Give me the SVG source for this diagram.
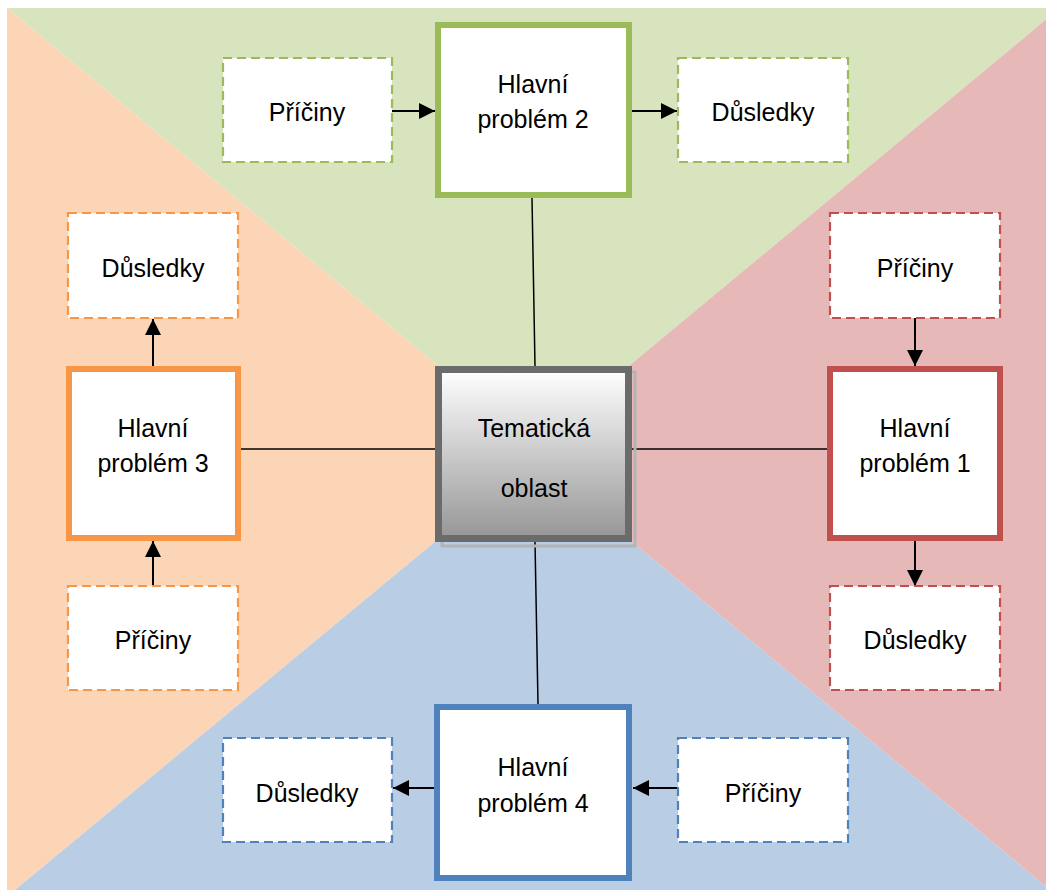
<svg xmlns="http://www.w3.org/2000/svg" width="1046" height="890" viewBox="0 0 1046 890">
<defs>
<linearGradient id="grad" x1="0" y1="0" x2="0" y2="1">
<stop offset="0" stop-color="#ffffff"/>
<stop offset="1" stop-color="#969696"/>
</linearGradient>
<marker id="ah" viewBox="0 0 10 10" refX="10" refY="5" markerWidth="8" markerHeight="8" markerUnits="strokeWidth" orient="auto">
<path d="M0,0 L10,5 L0,10 Z" fill="#000"/>
</marker>
</defs>
<style>
text{font-family:"Liberation Sans",Arial,sans-serif;font-size:25px;fill:#000;text-anchor:middle}
.main{fill:#fff;stroke-width:6}
.dash{fill:#fff;stroke-width:2.2;stroke-dasharray:9 5}
.arr{stroke:#000;stroke-width:2;fill:none;marker-end:url(#ah)}
.ln{stroke:#000;stroke-width:1.5;fill:none}
.g{stroke:#9BBB59}.r{stroke:#C0504D}.o{stroke:#F79646}.b{stroke:#4F81BD}
</style>
<rect width="1046" height="890" fill="#fff"/>
<g id="background">
<polygon points="7,8 1060,8 630,365 437,365" fill="#D7E4BD"/>
<polygon points="7,8 437,365 437,540 15,890 7,890" fill="#FBD5B5"/>
<polygon points="15,890 437,540 630,540 1050,890" fill="#B9CDE5"/>
<polygon points="1060,8 1060,890 1050,890 630,540 630,365" fill="#E6B9B8"/>
<rect x="437" y="365" width="193" height="175" fill="#D7E4BD"/>
</g>
<g id="connectors">
<line class="ln" x1="532" y1="198" x2="535" y2="366"/>
<line class="ln" x1="535" y1="542" x2="538" y2="704"/>
<line class="ln" x1="240" y1="449" x2="437" y2="449"/>
<line class="ln" x1="632" y1="449" x2="828" y2="449"/>
<line class="arr" x1="392" y1="111" x2="435" y2="111"/>
<line class="arr" x1="632" y1="111" x2="677" y2="111"/>
<line class="arr" x1="915" y1="318" x2="915" y2="366"/>
<line class="arr" x1="915" y1="541" x2="915" y2="586"/>
<line class="arr" x1="153" y1="366" x2="153" y2="319"/>
<line class="arr" x1="153" y1="586" x2="153" y2="541"/>
<line class="arr" x1="434" y1="788" x2="393" y2="788"/>
<line class="arr" x1="678" y1="788" x2="633" y2="788"/>
</g>
<g id="center">
<rect x="442" y="372" width="193" height="174" fill="none" stroke="#b4b4b4" stroke-width="3"/>
<rect x="438.5" y="369.5" width="190" height="169" fill="url(#grad)" stroke="#6b6b6b" stroke-width="7"/>
<text x="534" y="437">Tematická</text>
<text x="534" y="497">oblast</text>
</g>
<g id="problem2">
<rect class="main g" x="438" y="25" width="191" height="170"/>
<text x="533" y="93">Hlavní</text>
<text x="533" y="128">problém 2</text>
</g>
<g id="priciny2">
<rect class="dash g" x="223" y="58" width="169" height="104"/>
<text x="307" y="121">Příčiny</text>
</g>
<g id="dusledky2">
<rect class="dash g" x="678" y="58" width="170" height="104"/>
<text x="763" y="121">Důsledky</text>
</g>
<g id="problem1">
<rect class="main r" x="830" y="369" width="170" height="169"/>
<text x="915" y="437">Hlavní</text>
<text x="915" y="472">problém 1</text>
</g>
<g id="priciny1">
<rect class="dash r" x="830" y="213" width="170" height="105"/>
<text x="915" y="277">Příčiny</text>
</g>
<g id="dusledky1">
<rect class="dash r" x="830" y="586" width="170" height="104"/>
<text x="915" y="649">Důsledky</text>
</g>
<g id="problem3">
<rect class="main o" x="69" y="369" width="169" height="169"/>
<text x="153" y="437">Hlavní</text>
<text x="153" y="472">problém 3</text>
</g>
<g id="dusledky3">
<rect class="dash o" x="68" y="213" width="170" height="105"/>
<text x="153" y="277">Důsledky</text>
</g>
<g id="priciny3">
<rect class="dash o" x="68" y="586" width="170" height="104"/>
<text x="153" y="649">Příčiny</text>
</g>
<g id="problem4">
<rect class="main b" x="437" y="707" width="192" height="171"/>
<text x="533" y="776">Hlavní</text>
<text x="533" y="812">problém 4</text>
</g>
<g id="dusledky4">
<rect class="dash b" x="223" y="738" width="169" height="104"/>
<text x="307" y="802">Důsledky</text>
</g>
<g id="priciny4">
<rect class="dash b" x="678" y="738" width="170" height="104"/>
<text x="763" y="802">Příčiny</text>
</g>
</svg>
